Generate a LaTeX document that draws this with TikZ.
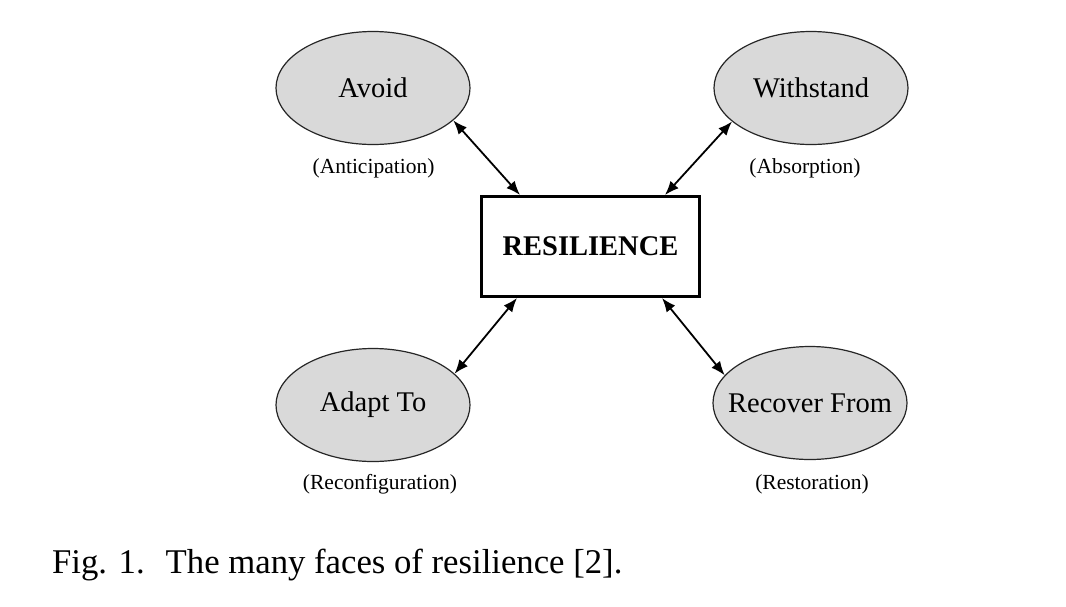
\documentclass[tikz,border=0pt]{standalone}
\usepackage{fontspec}
\setmainfont{Liberation Serif}
\usetikzlibrary{shapes.geometric,arrows.meta}
\definecolor{facegray}{RGB}{217,217,217}
\begin{document}
\begin{tikzpicture}[x=1pt,y=-1pt,
  face/.style={ellipse, draw=black!85, line width=1.2pt, fill=facegray,
    minimum width=194pt, minimum height=113pt, inner sep=0pt,
    font=\fontsize{28.5}{32}\selectfont},
  sub/.style={font=\fontsize{21.5}{25}\selectfont, inner sep=0pt},
  core/.style={draw, line width=3pt, fill=white, minimum width=218pt,
    minimum height=100pt, font=\fontsize{28.5}{32}\selectfont\bfseries},
  link/.style={{Latex[length=14pt,width=11pt]}-{Latex[length=14pt,width=11pt]}, line width=1.8pt}]
\useasboundingbox[fill=white] (0,0) rectangle (1066,606);
\node[core] (res) at (590.5,246.5) {RESILIENCE};
\node[face] (avoid) at (373,88) {\makebox[0pt]{Avoid}};
\node[face] (withstand) at (811,88) {\makebox[0pt]{Withstand}};
\node[face] (adapt) at (373,405) {\makebox[0pt]{Adapt To}};
\node[face] (recover) at (810,403) {\makebox[0pt]{Recover From}};
\node[sub] (l1) at (373.5,168) {(Anticipation)};
\node[sub] (l2) at (805,168) {(Absorption)};
\node[sub] (l3) at (380,484) {(Reconfiguration)};
\node[sub] (l4) at (812,484) {(Restoration)};
\draw[link] (avoid.-22) -- ([xshift=40pt]res.north west);
\draw[link] (withstand.-157) -- ([xshift=-36pt]res.north east);
\draw[link] (adapt.21) -- ([xshift=37pt]res.south west);
\draw[link] (recover.162) -- ([xshift=-39pt]res.south east);
\node[anchor=base west, inner sep=0pt, font=\fontsize{34.7}{40}\selectfont] (cap) at (52,573) {Fig. 1.\hspace{21pt}The many faces of resilience [2].};
\end{tikzpicture}
\end{document}
